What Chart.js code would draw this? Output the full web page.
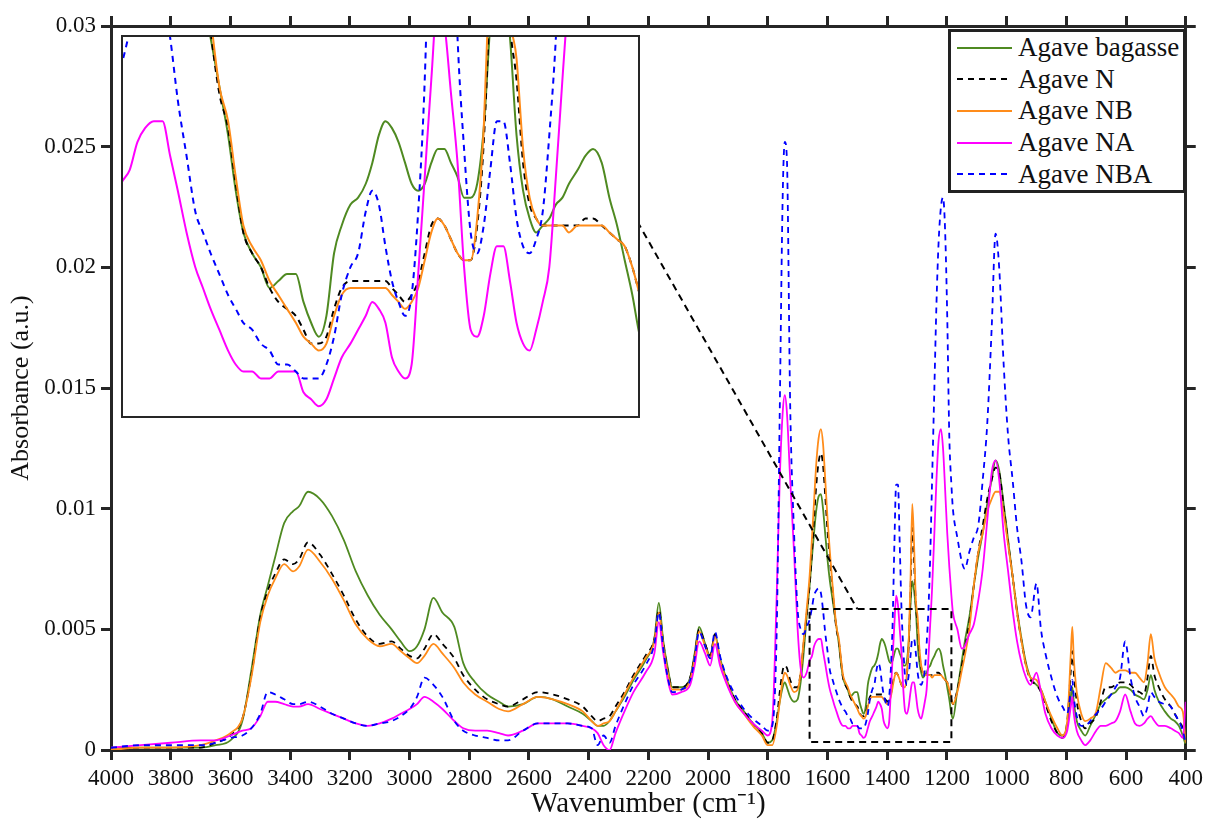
<!DOCTYPE html>
<html>
<head>
<meta charset="utf-8">
<script src="https://cdn.jsdelivr.net/npm/chart.js@4.4.1/dist/chart.umd.min.js"></script>
<style>
  html, body { margin: 0; padding: 0; background: #fff; }
  #wrap { position: relative; width: 1208px; height: 819px; }
  #main { position: absolute; left: 0; top: 0; }
  #inset { position: absolute; left: 121px; top: 35px; background: #fff; }
  #legend {
    position: absolute; left: 948px; top: 29px; width: 232px; height: 158px;
    border: 3px solid #222; background: #fff;
    font-family: 'Liberation Serif', 'Times New Roman', serif; font-size: 27px; color: #111;
  }
  .row { display: flex; align-items: center; height: 31.6px; white-space: nowrap; }
  .row svg { margin: 0 6px 0 6px; }
</style>
</head>
<body>
<div id="wrap">
  <canvas id="main" width="1208" height="819"></canvas>
  <canvas id="inset" width="519" height="383"></canvas>
  <div id="legend"></div>
</div>
<script>
// wavenumber grid (cm^-1), shared by all spectra
const wavenumbers = [
  4000, 3900, 3800, 3700, 3650, 3600, 3560, 3530, 3500, 3475,
  3450, 3420, 3390, 3370, 3340, 3300, 3260, 3220, 3180, 3140,
  3100, 3060, 3030, 3000, 2975, 2950, 2920, 2890, 2850, 2820,
  2780, 2740, 2700, 2670, 2620, 2570, 2520, 2470, 2420, 2390,
  2370, 2350, 2330, 2310, 2280, 2250, 2210, 2180, 2165, 2150,
  2135, 2120, 2090, 2060, 2045, 2030, 2010, 1993, 1977, 1960,
  1940, 1910, 1880, 1850, 1820, 1800, 1785, 1770, 1760, 1750,
  1743, 1736, 1725, 1712, 1700, 1690, 1680, 1670, 1660, 1652,
  1645, 1638, 1630, 1622, 1615, 1608, 1600, 1592, 1585, 1578,
  1570, 1562, 1555, 1548, 1540, 1532, 1524, 1516, 1508, 1500,
  1493, 1486, 1479, 1472, 1465, 1458, 1450, 1443, 1436, 1430,
  1424, 1418, 1412, 1406, 1400, 1394, 1388, 1382, 1376, 1370,
  1364, 1358, 1352, 1346, 1340, 1334, 1328, 1322, 1316, 1310,
  1304, 1298, 1292, 1286, 1280, 1274, 1268, 1262, 1256, 1250,
  1242, 1235, 1228, 1220, 1213, 1206, 1199, 1192, 1185, 1180,
  1165, 1150, 1140, 1125, 1110, 1095, 1080, 1065, 1050, 1037,
  1025, 1010, 995, 980, 965, 950, 935, 920, 900, 885,
  870, 850, 830, 813, 797, 785, 780, 775, 765, 750,
  737, 720, 700, 685, 668, 650, 635, 620, 603, 585,
  570, 555, 540, 528, 517, 505, 490, 470, 450, 437,
  423, 410, 400
];

const bagasse = [
  .0001, .0001, .0001, .0001, .0002, .0004, .0012, .0033, .0056, .0068,
  .0080, .0094, .0099, .0101, .0107, .0104, .0097, .0087, .0074, .0064,
  .0056, .0050, .0045, .0041, .0043, .0050, .0063, .0057, .0051, .0036,
  .0028, .0023, .0020, .0018, .0019, .0022, .0021, .0018, .0015, .0012,
  .0010, .0010, .0012, .0016, .0022, .0029, .0037, .0046, .0061, .0045,
  .0034, .0026, .0026, .0030, .0040, .0051, .0044, .0039, .0048, .0038,
  .0030, .0021, .0016, .0011, .0007, .0003, .0004, .0012, .0020, .0026,
  .0028, .0026, .0022, .0020, .0021, .0028, .0040, .0055, .0068, .0080,
  .0090, .0099, .0105, .0106, .0100, .0090, .0079, .0070, .0064, .0058,
  .0051, .0044, .0036, .0030, .0027, .0025, .0022, .0023, .0024, .0024,
  .0020, .0017, .0015, .0018, .0027, .0031, .0034, .0035, .0037, .0040,
  .0044, .0046, .0045, .0043, .0040, .0037, .0036, .0037, .0040, .0042,
  .0042, .0040, .0038, .0035, .0035, .0037, .0045, .0060, .0070, .0066,
  .0058, .0044, .0036, .0032, .0030, .0031, .0032, .0034, .0035, .0037,
  .0039, .0041, .0042, .0040, .0035, .0031, .0026, .0021, .0015, .0013,
  .0025, .0037, .0045, .0055, .0068, .0080, .0090, .0102, .0112, .0120,
  .0116, .0102, .0087, .0072, .0058, .0046, .0036, .0030, .0027, .0025,
  .0020, .0013, .0007, .0006, .0010, .0022, .0026, .0020, .0012, .0008,
  .0006, .0010, .0015, .0019, .0021, .0023, .0024, .0026, .0026, .0025,
  .0023, .0022, .0021, .0025, .0031, .0025, .0020, .0016, .0013, .0012,
  .0010, .0006, .0002
];

const agaveN = [
  .0000, .0001, .0001, .0001, .0003, .0006, .0013, .0031, .0055, .0066,
  .0073, .0079, .0077, .0079, .0086, .0081, .0073, .0064, .0054, .0047,
  .0044, .0045, .0042, .0039, .0038, .0042, .0048, .0044, .0038, .0031,
  .0025, .0021, .0019, .0018, .0021, .0024, .0023, .0021, .0018, .0014,
  .0012, .0013, .0014, .0018, .0024, .0031, .0039, .0046, .0058, .0044,
  .0033, .0026, .0026, .0030, .0039, .0050, .0044, .0039, .0048, .0038,
  .0030, .0021, .0016, .0011, .0007, .0003, .0004, .0013, .0024, .0033,
  .0035, .0034, .0029, .0026, .0026, .0032, .0044, .0056, .0068, .0082,
  .0096, .0109, .0119, .0123, .0118, .0106, .0091, .0079, .0069, .0059,
  .0050, .0045, .0037, .0030, .0027, .0025, .0022, .0020, .0019, .0018,
  .0016, .0014, .0014, .0015, .0019, .0022, .0023, .0023, .0023, .0023,
  .0023, .0023, .0022, .0021, .0020, .0021, .0023, .0027, .0031, .0032,
  .0031, .0029, .0027, .0026, .0026, .0031, .0043, .0065, .0092, .0078,
  .0060, .0052, .0040, .0034, .0032, .0031, .0031, .0031, .0031, .0031,
  .0031, .0032, .0032, .0031, .0030, .0029, .0028, .0025, .0021, .0019,
  .0025, .0035, .0042, .0053, .0068, .0082, .0093, .0104, .0112, .0117,
  .0115, .0101, .0086, .0072, .0057, .0045, .0035, .0029, .0027, .0024,
  .0019, .0012, .0007, .0005, .0012, .0033, .0041, .0032, .0020, .0012,
  .0009, .0011, .0014, .0020, .0026, .0026, .0027, .0028, .0028, .0027,
  .0025, .0024, .0023, .0030, .0039, .0031, .0026, .0021, .0018, .0015,
  .0012, .0009, .0002
];

const agaveNB = [
  .0000, .0001, .0001, .0002, .0004, .0007, .0013, .0030, .0053, .0064,
  .0071, .0077, .0074, .0076, .0083, .0078, .0071, .0062, .0052, .0046,
  .0043, .0044, .0041, .0038, .0036, .0039, .0044, .0040, .0034, .0028,
  .0023, .0020, .0017, .0016, .0019, .0022, .0021, .0019, .0016, .0012,
  .0010, .0011, .0012, .0016, .0023, .0030, .0038, .0045, .0057, .0043,
  .0032, .0025, .0025, .0029, .0038, .0049, .0043, .0038, .0047, .0037,
  .0029, .0020, .0015, .0010, .0006, .0002, .0002, .0010, .0020, .0029,
  .0032, .0031, .0027, .0024, .0025, .0032, .0045, .0058, .0072, .0088,
  .0103, .0118, .0129, .0133, .0127, .0113, .0096, .0082, .0071, .0061,
  .0051, .0046, .0038, .0031, .0028, .0026, .0023, .0021, .0019, .0017,
  .0015, .0014, .0013, .0014, .0018, .0021, .0022, .0022, .0022, .0022,
  .0022, .0022, .0021, .0020, .0019, .0020, .0022, .0026, .0030, .0032,
  .0031, .0029, .0027, .0026, .0026, .0032, .0045, .0070, .0102, .0085,
  .0062, .0055, .0042, .0035, .0032, .0031, .0031, .0031, .0031, .0030,
  .0031, .0031, .0031, .0031, .0030, .0029, .0028, .0025, .0021, .0019,
  .0024, .0033, .0039, .0050, .0068, .0082, .0090, .0099, .0104, .0107,
  .0107, .0098, .0085, .0072, .0057, .0045, .0035, .0030, .0029, .0025,
  .0020, .0014, .0009, .0006, .0012, .0040, .0051, .0038, .0024, .0015,
  .0012, .0013, .0016, .0026, .0036, .0034, .0032, .0033, .0033, .0032,
  .0032, .0030, .0028, .0036, .0048, .0038, .0032, .0026, .0023, .0021,
  .0018, .0016, .0003
];

const agaveNA = [
  .0001, .0002, .0003, .0004, .0004, .0006, .0008, .0009, .0014, .0020,
  .0020, .0019, .0018, .0018, .0019, .0017, .0015, .0013, .0011, .0010,
  .0011, .0013, .0015, .0017, .0019, .0022, .0020, .0017, .0012, .0009,
  .0008, .0008, .0007, .0006, .0008, .0011, .0011, .0011, .0010, .0009,
  .0007, .0002, .0000, .0007, .0016, .0024, .0032, .0040, .0053, .0040,
  .0029, .0023, .0024, .0027, .0035, .0045, .0040, .0035, .0044, .0035,
  .0028, .0020, .0015, .0011, .0008, .0006, .0012, .0065, .0112, .0140,
  .0147, .0140, .0112, .0082, .0050, .0034, .0030, .0032, .0037, .0039,
  .0043, .0045, .0046, .0046, .0041, .0036, .0030, .0025, .0022, .0019,
  .0016, .0013, .0011, .0010, .0010, .0009, .0009, .0010, .0010, .0010,
  .0007, .0006, .0005, .0006, .0009, .0012, .0014, .0016, .0018, .0020,
  .0019, .0017, .0012, .0010, .0009, .0011, .0024, .0038, .0052, .0064,
  .0060, .0050, .0040, .0025, .0016, .0015, .0018, .0024, .0028, .0028,
  .0023, .0017, .0014, .0013, .0016, .0020, .0025, .0038, .0052, .0066,
  .0090, .0112, .0128, .0133, .0125, .0108, .0090, .0076, .0064, .0057,
  .0050, .0042, .0043, .0048, .0052, .0062, .0075, .0095, .0115, .0120,
  .0112, .0090, .0074, .0058, .0045, .0036, .0030, .0027, .0032, .0024,
  .0015, .0009, .0006, .0005, .0008, .0018, .0022, .0015, .0008, .0004,
  .0002, .0004, .0008, .0010, .0010, .0011, .0012, .0016, .0023, .0016,
  .0011, .0010, .0011, .0013, .0014, .0012, .0010, .0010, .0009, .0008,
  .0007, .0005, .0020
];

const agaveNBA = [
  .0001, .0002, .0002, .0002, .0003, .0005, .0006, .0009, .0015, .0024,
  .0023, .0021, .0019, .0019, .0020, .0018, .0015, .0013, .0011, .0010,
  .0011, .0012, .0014, .0017, .0022, .0030, .0027, .0022, .0012, .0008,
  .0006, .0005, .0004, .0004, .0008, .0011, .0011, .0011, .0010, .0009,
  .0002, .0006, .0003, .0010, .0019, .0027, .0035, .0044, .0057, .0042,
  .0030, .0024, .0025, .0029, .0038, .0049, .0043, .0038, .0049, .0039,
  .0031, .0023, .0017, .0013, .0010, .0008, .0010, .0050, .0140, .0230,
  .0252, .0245, .0143, .0090, .0058, .0050, .0048, .0051, .0054, .0059,
  .0064, .0066, .0067, .0065, .0058, .0049, .0041, .0033, .0030, .0027,
  .0024, .0021, .0019, .0017, .0016, .0014, .0013, .0011, .0011, .0010,
  .0009, .0009, .0009, .0011, .0015, .0021, .0025, .0027, .0033, .0036,
  .0034, .0028, .0023, .0020, .0018, .0021, .0033, .0052, .0085, .0110,
  .0110, .0085, .0058, .0042, .0030, .0027, .0031, .0039, .0046, .0046,
  .0040, .0032, .0028, .0027, .0029, .0033, .0044, .0058, .0080, .0110,
  .0150, .0185, .0210, .0225, .0229, .0215, .0180, .0130, .0110, .0100,
  .0088, .0078, .0075, .0082, .0088, .0093, .0112, .0135, .0175, .0214,
  .0200, .0160, .0130, .0112, .0092, .0078, .0060, .0055, .0069, .0050,
  .0040, .0030, .0022, .0018, .0015, .0025, .0029, .0022, .0014, .0010,
  .0010, .0012, .0015, .0017, .0020, .0023, .0026, .0030, .0045, .0030,
  .0022, .0018, .0014, .0018, .0024, .0022, .0020, .0019, .0018, .0015,
  .0012, .0008, .0003
];

const xTicks = [4000, 3800, 3600, 3400, 3200, 3000, 2800, 2600, 2400, 2200, 2000, 1800, 1600, 1400, 1200, 1000, 800, 600, 400];
const yTicks = [0, 0.005, 0.01, 0.015, 0.02, 0.025, 0.03];

// zoomed window shown in the inset
const zoomX = [1660, 1185];
const zoomY = [0.00033, 0.00584];
// connector: from inset edge to the top of the zoom box
const connectorFrom = [2237, 0.0219];
const connectorTo = [1500, 0.00584];

const series = [
  { label: 'Agave bagasse', values: bagasse, color: '#4f8a21', dash: [] },
  { label: 'Agave N', values: agaveN, color: '#000000', dash: [6, 5] },
  { label: 'Agave NB', values: agaveNB, color: '#ff8c1a', dash: [] },
  { label: 'Agave NA', values: agaveNA, color: '#ff00ff', dash: [] },
  { label: 'Agave NBA', values: agaveNBA, color: '#0000ff', dash: [6, 5] }
];

const FONT = "'Liberation Serif', 'Times New Roman', serif";
const AXIS = '#262626';
Chart.defaults.font.family = FONT;

function makeDatasets(width) {
  return series.map((s, i) => ({
    label: s.label,
    data: wavenumbers.map((w, j) => ({ x: w, y: s.values[j] })),
    borderColor: s.color,
    borderDash: s.dash,
    borderWidth: width,
    pointRadius: 0,
    fill: false,
    cubicInterpolationMode: 'monotone',
    order: series.length - i
  }));
}

function tickAxis(extra) {
  return Object.assign({
    grid: { drawOnChartArea: false, drawTicks: true, tickLength: 10, tickWidth: 3, lineWidth: 3, tickColor: AXIS, color: AXIS },
    border: { display: true, width: 3, color: AXIS }
  }, extra);
}

const zoomBoxPlugin = {
  id: 'zoomBox',
  afterDatasetsDraw(chart) {
    const { ctx, scales: { x, y } } = chart;
    ctx.save();
    ctx.strokeStyle = '#000';
    ctx.lineWidth = 2;
    ctx.setLineDash([7, 5]);
    const l = x.getPixelForValue(zoomX[0]), r = x.getPixelForValue(zoomX[1]);
    const t = y.getPixelForValue(zoomY[1]), b = y.getPixelForValue(zoomY[0]);
    ctx.strokeRect(l, t, r - l, b - t);
    ctx.beginPath();
    ctx.moveTo(x.getPixelForValue(connectorFrom[0]), y.getPixelForValue(connectorFrom[1]));
    ctx.lineTo(x.getPixelForValue(connectorTo[0]), y.getPixelForValue(connectorTo[1]));
    ctx.stroke();
    ctx.restore();
  }
};

new Chart(document.getElementById('main'), {
  type: 'line',
  data: { datasets: makeDatasets(1.8) },
  options: {
    animation: false,
    responsive: false,
    layout: { padding: 0 },
    plugins: { legend: { display: false }, tooltip: { enabled: false } },
    scales: {
      x: tickAxis({
        type: 'linear', position: 'bottom', min: 400, max: 4000, reverse: true,
        afterBuildTicks: s => { s.ticks = xTicks.map(v => ({ value: v })); },
        afterFit: s => { s.height = 69; },
        ticks: { autoSkip: false, maxRotation: 0, color: '#111', font: { size: 23 }, padding: 5, callback: v => String(v) },
        title: { display: true, text: 'Wavenumber (cm\u207B\u00B9)', color: '#111', font: { size: 29 }, padding: { top: 0, bottom: -3 } }
      }),
      xTop: tickAxis({
        axis: 'x', type: 'linear', position: 'top', min: 400, max: 4000, reverse: true,
        afterBuildTicks: s => { s.ticks = xTicks.map(v => ({ value: v })); },
        afterFit: s => { s.height = 26; },
        ticks: { display: false }
      }),
      y: tickAxis({
        type: 'linear', position: 'left', min: 0, max: 0.03,
        afterBuildTicks: s => { s.ticks = yTicks.map(v => ({ value: v })); },
        afterFit: s => { s.width = 111; },
        ticks: { color: '#111', font: { size: 23 }, padding: 5, callback: v => String(+v.toFixed(3)) },
        title: { display: true, text: 'Absorbance (a.u.)', color: '#111', font: { size: 26 }, padding: { top: 6, bottom: 0 } }
      }),
      yRight: tickAxis({
        axis: 'y', type: 'linear', position: 'right', min: 0, max: 0.03,
        afterBuildTicks: s => { s.ticks = yTicks.map(v => ({ value: v })); },
        afterFit: s => { s.width = 17; },
        ticks: { display: false }
      })
    }
  },
  plugins: [zoomBoxPlugin]
});

const insetFrame = {
  id: 'insetFrame',
  afterDraw(chart) {
    const { ctx, width, height } = chart;
    ctx.save();
    ctx.strokeStyle = AXIS;
    ctx.lineWidth = 2;
    ctx.strokeRect(1, 1, width - 2, height - 2);
    ctx.restore();
  }
};

new Chart(document.getElementById('inset'), {
  type: 'line',
  data: { datasets: makeDatasets(2) },
  options: {
    animation: false,
    responsive: false,
    layout: { padding: 0 },
    plugins: { legend: { display: false }, tooltip: { enabled: false } },
    scales: {
      x: { type: 'linear', display: false, min: zoomX[1], max: zoomX[0], reverse: true },
      y: { type: 'linear', display: false, min: zoomY[0], max: zoomY[1] }
    }
  },
  plugins: [insetFrame]
});

// legend box
const legend = document.getElementById('legend');
series.forEach(s => {
  const row = document.createElement('div');
  row.className = 'row';
  row.innerHTML =
    '<svg width="55" height="6"><line x1="0" y1="3" x2="55" y2="3" stroke="' + s.color +
    '" stroke-width="2" stroke-dasharray="' + (s.dash.length ? s.dash.join(',') : 'none') + '"/></svg>' +
    '<span>' + s.label + '</span>';
  legend.appendChild(row);
});
</script>
</body>
</html>
